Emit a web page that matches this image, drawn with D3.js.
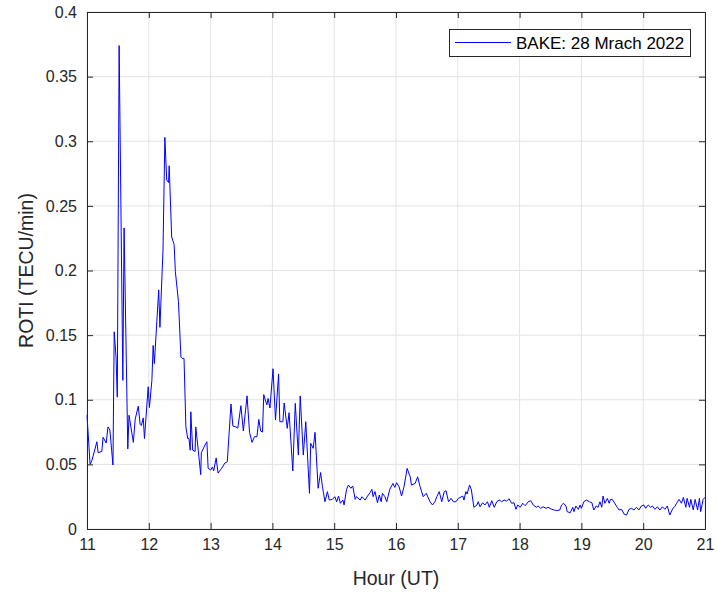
<!DOCTYPE html>
<html>
<head>
<meta charset="utf-8">
<script src="https://cdn.jsdelivr.net/npm/d3@7"></script>
<style>
  body { margin: 0; background: #fff; }
  svg { display: block; font-family: "Liberation Sans", Arial, sans-serif; }
</style>
</head>
<body>
<svg id="chart" width="717" height="592"></svg>
<script>
const hours = [
  11.00,11.05,11.08,11.16,11.18,11.24,11.26,11.31,11.34,11.37,11.42,11.44,11.47,11.49,11.52,11.58,11.60,11.66,11.68,11.75,
  11.78,11.83,11.86,11.88,11.91,11.93,11.99,12.01,12.05,12.07,12.09,12.16,12.18,12.23,12.26,12.29,12.32,12.33,12.37,12.41,
  12.43,12.48,12.52,12.54,12.57,12.60,12.63,12.65,12.67,12.68,12.71,12.75,12.76,12.80,12.84,12.85,12.91,12.94,12.96,13.00,
  13.03,13.05,13.09,13.12,13.18,13.23,13.27,13.33,13.36,13.41,13.44,13.49,13.53,13.59,13.63,13.67,13.71,13.75,13.78,13.81,
  13.84,13.86,13.89,13.91,13.93,13.96,14.01,14.05,14.10,14.12,14.17,14.19,14.24,14.27,14.33,14.37,14.42,14.45,14.50,14.54,
  14.60,14.62,14.66,14.69,14.74,14.78,14.81,14.85,14.89,14.92,14.97,15.01,15.04,15.07,15.10,15.14,15.16,15.20,15.23,15.27,
  15.30,15.34,15.36,15.42,15.45,15.50,15.54,15.58,15.61,15.63,15.66,15.70,15.73,15.76,15.78,15.82,15.85,15.90,15.95,15.98,
  16.01,16.05,16.09,16.13,16.18,16.23,16.25,16.31,16.35,16.39,16.44,16.49,16.55,16.59,16.63,16.66,16.70,16.74,16.78,16.81,
  16.85,16.89,16.93,16.97,17.01,17.08,17.10,17.13,17.15,17.19,17.22,17.26,17.31,17.33,17.36,17.40,17.44,17.48,17.51,17.55,
  17.59,17.63,17.67,17.71,17.75,17.79,17.83,17.87,17.91,17.94,17.97,18.01,18.05,18.09,18.14,18.18,18.22,18.27,18.30,18.34,
  18.38,18.43,18.46,18.52,18.56,18.60,18.65,18.68,18.71,18.75,18.77,18.82,18.86,18.88,18.91,18.95,18.98,19.00,19.04,19.08,
  19.13,19.17,19.20,19.24,19.27,19.30,19.33,19.35,19.38,19.42,19.45,19.47,19.50,19.54,19.58,19.61,19.65,19.69,19.73,19.77,
  19.81,19.85,19.89,19.93,19.97,20.01,20.04,20.08,20.12,20.15,20.19,20.23,20.27,20.31,20.35,20.39,20.43,20.48,20.51,20.54,
  20.58,20.62,20.65,20.69,20.71,20.75,20.77,20.81,20.84,20.88,20.91,20.93,20.97,21.00
];
const roti = [
  0.088,0.050,0.053,0.0675,0.059,0.060,0.071,0.0665,0.079,0.0766,0.0495,0.1526,0.133,0.102,0.374,0.115,0.233,0.062,0.088,0.067,
  0.085,0.095,0.081,0.080,0.086,0.070,0.110,0.094,0.115,0.142,0.128,0.185,0.156,0.216,0.303,0.270,0.268,0.281,0.226,0.220,
  0.199,0.176,0.133,0.132,0.132,0.079,0.070,0.070,0.061,0.0907,0.061,0.060,0.079,0.061,0.042,0.059,0.065,0.0675,0.047,0.0456,
  0.048,0.045,0.055,0.0433,0.047,0.051,0.052,0.0967,0.0797,0.079,0.078,0.0954,0.0758,0.103,0.0748,0.067,0.0714,0.0714,0.0848,0.0758,
  0.075,0.104,0.099,0.096,0.101,0.0936,0.124,0.0843,0.120,0.083,0.083,0.0975,0.0779,0.090,0.0449,0.0972,0.0572,0.103,0.0572,0.083,
  0.0276,0.0663,0.0624,0.0748,0.0315,0.0437,0.0327,0.0211,0.0289,0.0224,0.0229,0.025,0.0211,0.0255,0.0199,0.0224,0.0186,0.0307,0.034,0.0315,
  0.0333,0.0229,0.025,0.0224,0.025,0.0224,0.0255,0.0281,0.0307,0.025,0.029,0.0203,0.0263,0.0211,0.0276,0.025,0.0211,0.0307,0.0353,0.0322,
  0.0358,0.0327,0.0255,0.0327,0.0469,0.0404,0.034,0.0353,0.0404,0.0327,0.025,0.0276,0.0211,0.0186,0.0211,0.025,0.0289,0.0211,0.0289,0.0296,
  0.0211,0.0237,0.0211,0.0211,0.0237,0.0255,0.0224,0.0289,0.027,0.034,0.0302,0.0168,0.0186,0.0211,0.0172,0.0203,0.0186,0.0211,0.0168,0.0219,
  0.0168,0.0211,0.0224,0.0211,0.0224,0.0216,0.0234,0.0199,0.0203,0.0152,0.0186,0.0168,0.0199,0.0180,0.0211,0.0219,0.0186,0.0168,0.0178,0.016,
  0.0172,0.016,0.0168,0.0152,0.0147,0.0142,0.0147,0.0186,0.0199,0.0178,0.0134,0.0126,0.0168,0.0134,0.0178,0.0152,0.0186,0.016,0.0211,0.0224,
  0.0211,0.0203,0.0147,0.0178,0.0168,0.0211,0.0168,0.0255,0.0199,0.0237,0.0199,0.0229,0.0229,0.0199,0.0168,0.0147,0.0152,0.0116,0.0108,0.0152,
  0.016,0.0147,0.0168,0.0147,0.0178,0.0186,0.016,0.0186,0.0168,0.0178,0.0152,0.0172,0.0147,0.0172,0.0152,0.0178,0.0108,0.016,0.0172,0.0199,
  0.0229,0.0199,0.0245,0.0168,0.0237,0.0168,0.0229,0.0147,0.0229,0.0147,0.0237,0.0134,0.0229,0.0245
];
const xTicks = [11,12,13,14,15,16,17,18,19,20,21];
const yTicks = [0,0.05,0.1,0.15,0.2,0.25,0.3,0.35,0.4];
const xLabel = "Hour (UT)";
const yLabel = "ROTI (TECU/min)";
const legendLabel = "BAKE: 28 Mrach 2022";

(function () {
const svg = d3.select("#chart");
const m = {left: 87, top: 12, right: 12, bottom: 63};
const W = 717, H = 592;
const iw = W - m.left - m.right, ih = H - m.top - m.bottom;

const x = d3.scaleLinear().domain([11, 21]).range([m.left, m.left + iw]);
const y = d3.scaleLinear().domain([0, 0.4]).range([m.top + ih, m.top]);

const axisColor = "#262626";
const gridColor = "#e3e3e3";

// grid
const grid = svg.append("g");
grid.selectAll("line.gx").data(xTicks).join("line").attr("class", "gx")
  .attr("x1", d => x(d)).attr("x2", d => x(d))
  .attr("y1", m.top).attr("y2", m.top + ih)
  .attr("stroke", gridColor).attr("stroke-width", 1);
grid.selectAll("line.gy").data(yTicks).join("line").attr("class", "gy")
  .attr("y1", d => y(d)).attr("y2", d => y(d))
  .attr("x1", m.left).attr("x2", m.left + iw)
  .attr("stroke", gridColor).attr("stroke-width", 1);

// line
const line = d3.line().x((d, i) => x(hours[i])).y(d => y(d));
svg.append("path").datum(roti)
  .attr("d", line)
  .attr("fill", "none")
  .attr("stroke", "#0000ff")
  .attr("stroke-width", 1)
  .attr("stroke-linejoin", "round");

// axes (ticks inside)
const fmt = d => d3.format("~g")(d);
const tickLen = 6;
const axB = svg.append("g").attr("transform", `translate(0,${m.top + ih})`)
  .call(d3.axisBottom(x).tickValues(xTicks).tickSize(-tickLen).tickPadding(10).tickFormat(fmt));
const axT = svg.append("g").attr("transform", `translate(0,${m.top})`)
  .call(d3.axisTop(x).tickValues(xTicks).tickSize(-tickLen).tickFormat(""));
const axL = svg.append("g").attr("transform", `translate(${m.left},0)`)
  .call(d3.axisLeft(y).tickValues(yTicks).tickSize(-tickLen).tickPadding(10).tickFormat(fmt));
const axR = svg.append("g").attr("transform", `translate(${m.left + iw},0)`)
  .call(d3.axisRight(y).tickValues(yTicks).tickSize(-tickLen).tickFormat(""));

[axB, axT, axL, axR].forEach(g => {
  g.select(".domain").attr("stroke", axisColor).attr("stroke-width", 1);
  g.selectAll(".tick line").attr("stroke", axisColor);
  g.selectAll(".tick text").attr("fill", axisColor)
    .style("font-family", "'Liberation Sans', Arial, sans-serif").style("font-size", "16px");
});

// axis labels
svg.append("text")
  .attr("x", m.left + iw / 2).attr("y", 585)
  .attr("text-anchor", "middle")
  .attr("fill", axisColor)
  .style("font-size", "19.5px")
  .text(xLabel);
svg.append("text")
  .attr("transform", `translate(33,${m.top + ih / 2}) rotate(-90)`)
  .attr("text-anchor", "middle")
  .attr("fill", axisColor)
  .style("font-size", "19.5px")
  .text(yLabel);

// legend
const lg = svg.append("g");
lg.append("rect")
  .attr("x", 449.5).attr("y", 29.5).attr("width", 241).attr("height", 27)
  .attr("fill", "#fff").attr("stroke", axisColor).attr("stroke-width", 1);
lg.append("line")
  .attr("x1", 455).attr("x2", 511).attr("y1", 42.5).attr("y2", 42.5)
  .attr("stroke", "#0000ff").attr("stroke-width", 1);
lg.append("text")
  .attr("x", 516).attr("y", 49)
  .attr("fill", "#000")
  .style("font-size", "17px")
  .text(legendLabel);
})();
</script>
</body>
</html>
